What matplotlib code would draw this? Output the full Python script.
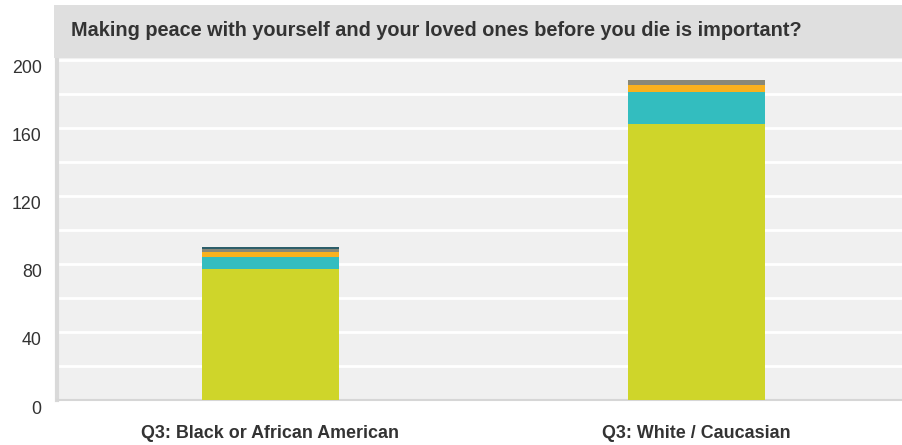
import matplotlib
matplotlib.use('Agg')
import matplotlib.pyplot as plt
import matplotlib.transforms as mtransforms
from matplotlib.patches import Rectangle
import numpy as np

plt.rcParams['font.family'] = ['Liberation Sans', 'DejaVu Sans']

# Data
categories = ['Q3: Black or African American', 'Q3: White / Caucasian']
seg_green = [77, 162]
seg_teal = [7, 19]
seg_orange = [3, 4]
seg_gray = [2, 3]
seg_dark = [1, 0]
y_ticks = [0, 40, 80, 120, 160, 200]
title = 'Making peace with yourself and your loved ones before you die is important?'

segments = [seg_green, seg_teal, seg_orange, seg_gray, seg_dark]
colors = ['#CFD52A', '#33BDBF', '#F9B11E', '#888878', '#2C5E6A']

W, H = 902, 445
fig = plt.figure(figsize=(W / 100, H / 100), dpi=100)
fig.patch.set_facecolor('white')

# title band
fig.patches.append(Rectangle((54 / W, 1 - 58 / H), 1 - 54 / W, 53 / H,
                             transform=fig.transFigure, facecolor='#DFDFDF',
                             edgecolor='none', zorder=0))
fig.text(71 / W, 1 - 31 / H, title, ha='left', va='center', fontsize=14.3,
         fontweight='bold', color='#333333')

ax = fig.add_axes([57 / W, 1 - 400 / H, 1 - 57 / W, 342 / H])
ax.set_facecolor('#F0F0F0')

x = np.arange(len(categories))
bottom = np.zeros(len(categories))
for vals, c in zip(segments, colors):
    ax.bar(x, vals, width=0.32, bottom=bottom, color=c, zorder=3, linewidth=0)
    bottom += np.array(vals)

ax.set_xlim(-0.501, 1.482)
ax.set_ylim(0, 201)
ax.set_yticks(y_ticks)
ax.set_yticks(np.arange(0, 201, 20), minor=True)
ax.grid(True, which='both', axis='y', color='white', linewidth=2, zorder=1)
ax.tick_params(axis='y', which='both', length=0, pad=11, labelsize=12.8,
               labelcolor='#333333')
ax.tick_params(axis='x', length=0, pad=18)
ax.set_xticks(x)
ax.set_xticklabels(categories, fontsize=12.9, fontweight='bold', color='#333333')

# y labels sit a bit below their gridlines
offset = mtransforms.ScaledTranslation(0, -7 / 100, fig.dpi_scale_trans)
for lbl in ax.get_yticklabels():
    lbl.set_transform(lbl.get_transform() + offset)

for side in ['top', 'right']:
    ax.spines[side].set_visible(False)
ax.spines['left'].set_color('#D9D9D9')
ax.spines['left'].set_linewidth(3)
ax.spines['bottom'].set_color('#D6D6D6')
ax.spines['bottom'].set_linewidth(1.5)

fig.savefig('out.png', dpi=100)
